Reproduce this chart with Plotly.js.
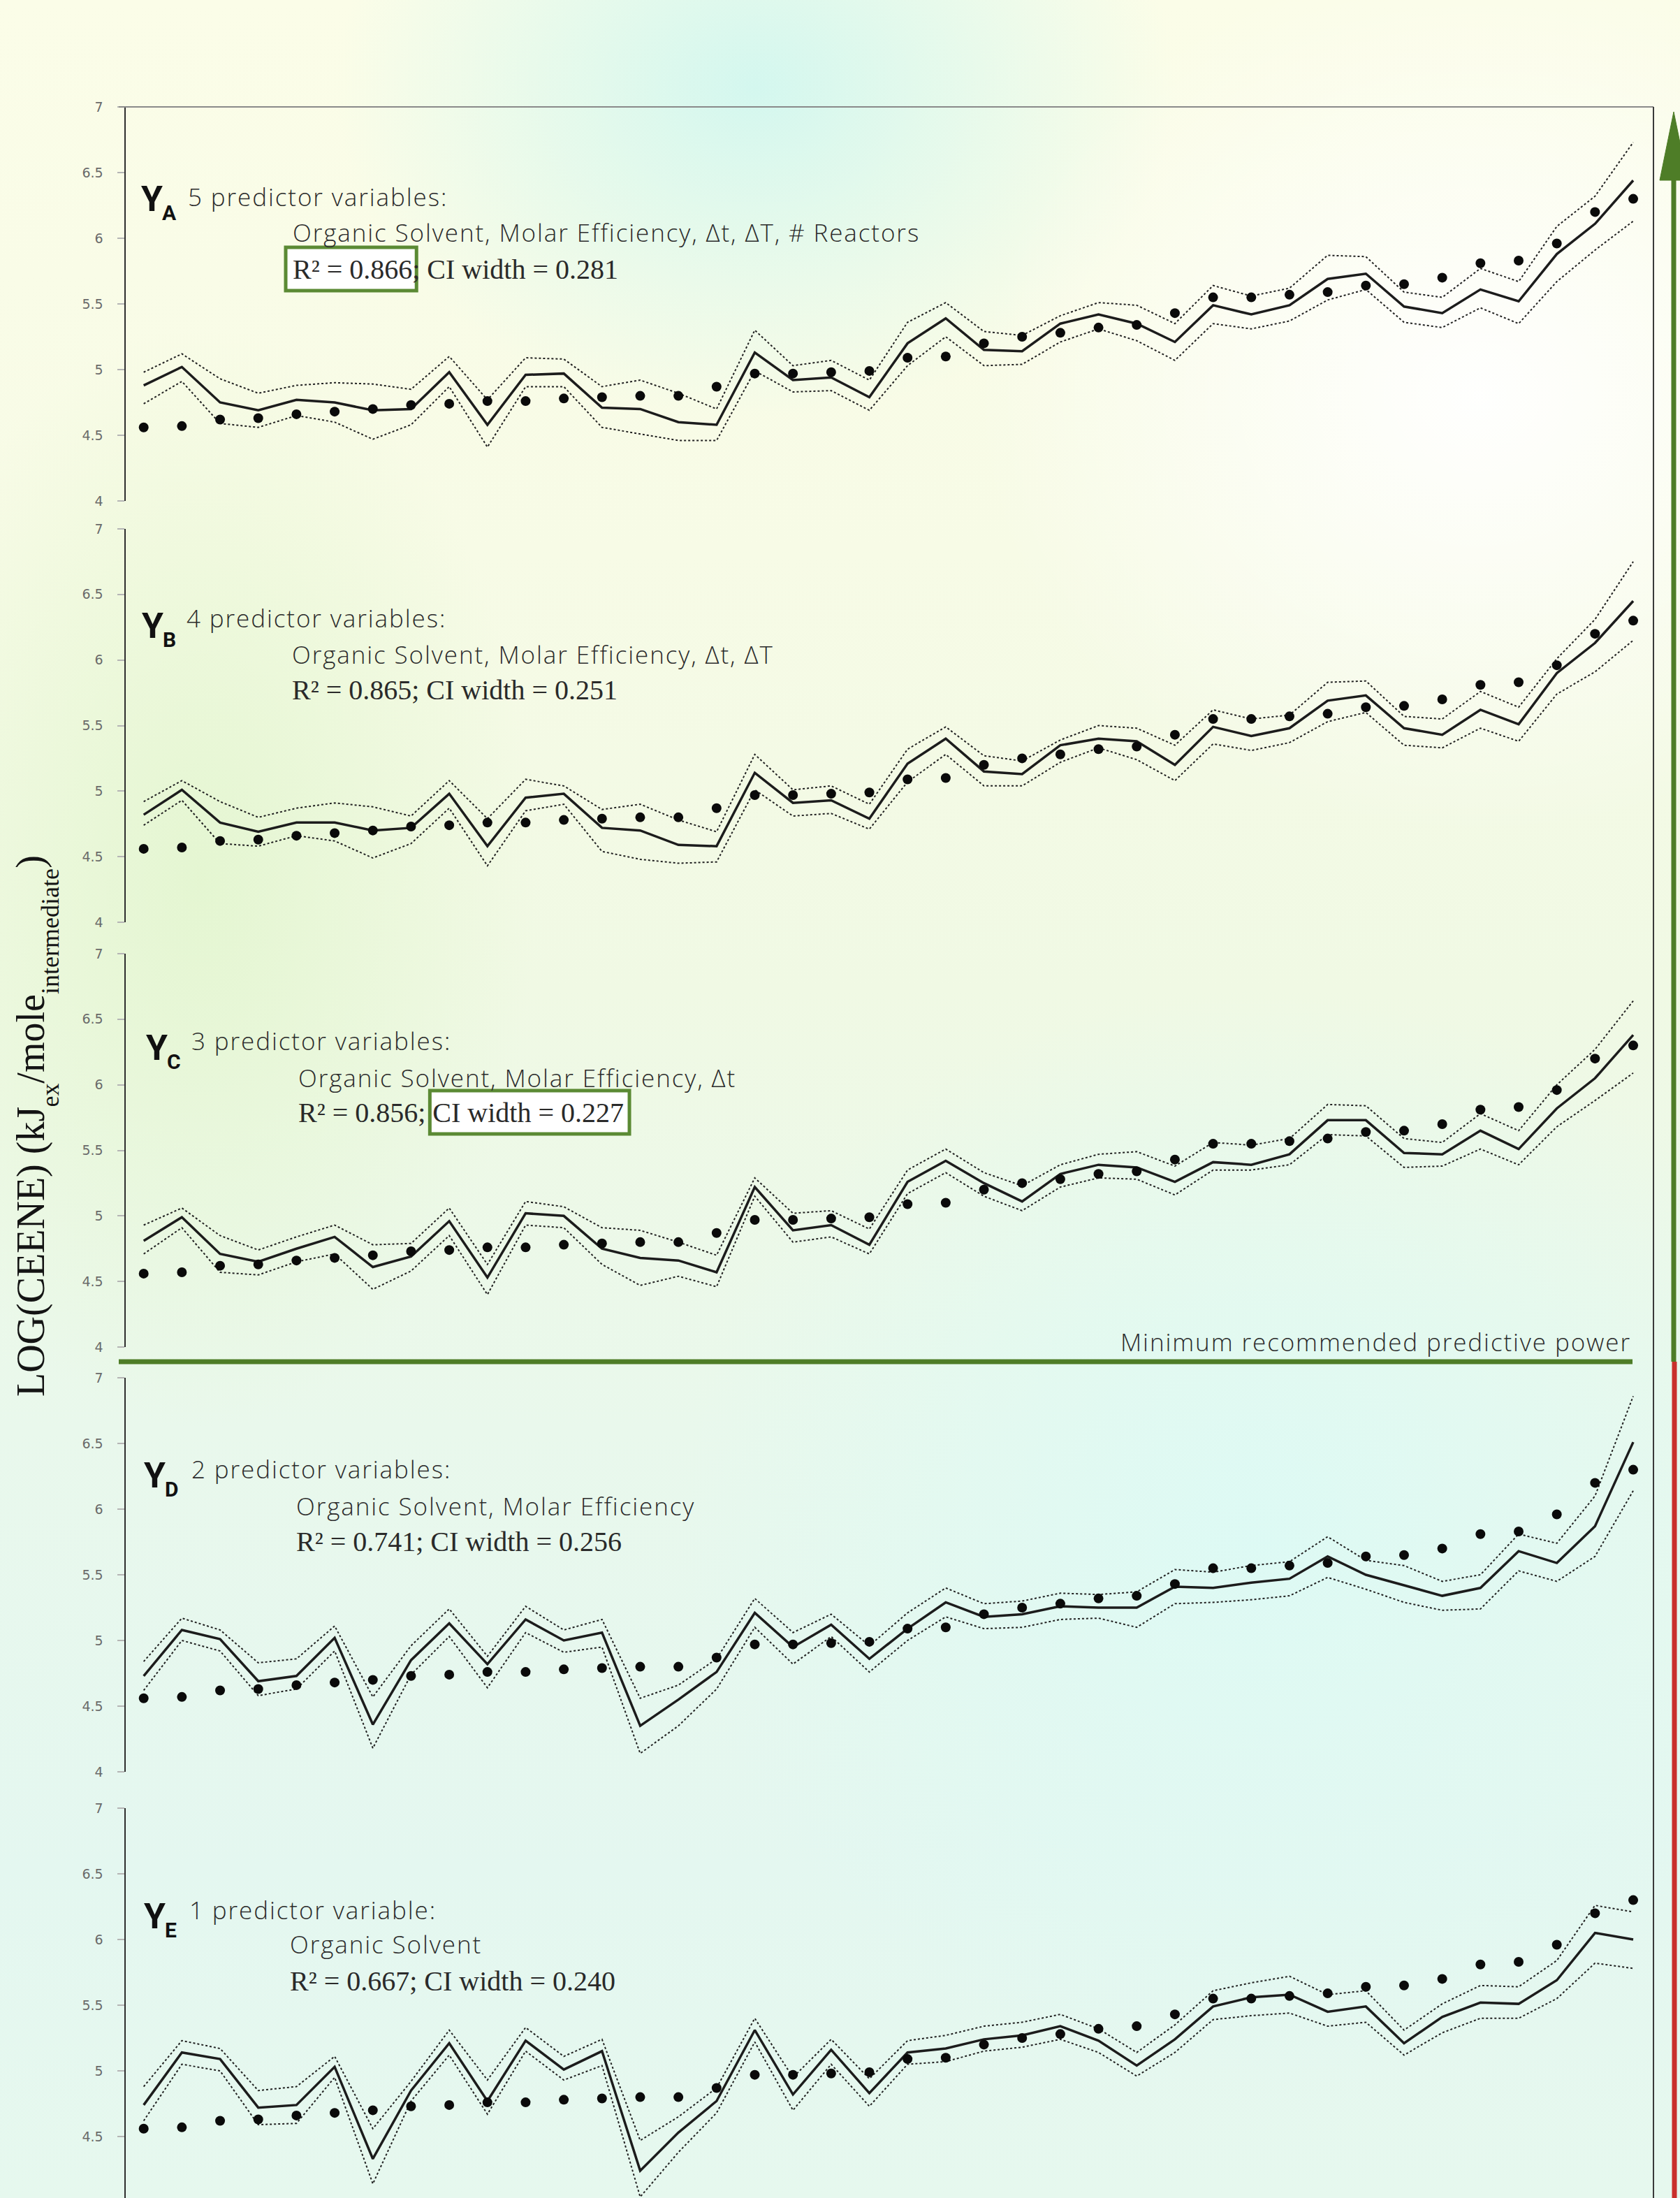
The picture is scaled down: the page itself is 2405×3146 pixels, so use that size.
<!DOCTYPE html>
<html>
<head>
<meta charset="utf-8">
<script src="https://cdn.plot.ly/plotly-3.0.1.min.js"></script>
<style>
html,body{margin:0;padding:0;width:2405px;height:3146px;overflow:hidden;}
body{
  background:
    radial-gradient(ellipse 30% 20% at 88% 18%, rgba(255,255,255,0.95) 0%, rgba(255,255,255,0) 100%),
    radial-gradient(ellipse 25% 15% at 45% 4%, rgba(205,246,240,0.85) 0%, rgba(205,246,240,0) 100%),
    radial-gradient(ellipse 20% 25% at 12% 40%, rgba(225,245,205,0.8) 0%, rgba(225,245,205,0) 100%),
    radial-gradient(ellipse 35% 25% at 75% 70%, rgba(220,250,245,0.9) 0%, rgba(220,250,245,0) 100%),
    linear-gradient(180deg, #fbfde8 0%, #f7fbe6 25%, #f0f9e4 45%, #e9f8ec 65%, #e4f7f0 85%, #e6f8ee 100%);
}
#chart{width:2405px;height:3146px;}
/* slightly widened light sans labels (slide typography) - applied before Plotly measures the text */
text[style*="Open Sans"]{letter-spacing:1.9px;}
</style>
</head>
<body>
<div id="chart"></div>
<script>
// ---------------- DATA ----------------
const sampleNo = [1,2,3,4,5,6,7,8,9,10,11,12,13,14,15,16,17,18,19,20,
                  21,22,23,24,25,26,27,28,29,30,31,32,33,34,35,36,37,38,39,40];

const observed = [4.56,4.57,4.62,4.63,4.66,4.68,4.70,4.73,4.74,4.76,4.76,4.78,4.79,4.80,4.80,4.87,4.97,4.97,4.98,4.99,
                  5.09,5.10,5.20,5.25,5.28,5.32,5.34,5.43,5.55,5.55,5.57,5.59,5.64,5.65,5.70,5.81,5.83,5.96,6.20,6.30];

const predA  = [4.88,5.02,4.75,4.69,4.77,4.75,4.69,4.70,4.98,4.58,4.96,4.97,4.71,4.70,4.60,4.58,5.13,4.92,4.94,4.79,
                5.20,5.39,5.15,5.14,5.35,5.42,5.35,5.21,5.49,5.42,5.49,5.69,5.73,5.48,5.43,5.61,5.52,5.88,6.11,6.44];
const upperA = [4.98,5.12,4.93,4.82,4.88,4.90,4.89,4.85,5.10,4.77,5.09,5.08,4.87,4.92,4.82,4.70,5.30,5.03,5.07,4.92,
                5.36,5.51,5.29,5.26,5.41,5.51,5.49,5.35,5.64,5.56,5.62,5.87,5.86,5.59,5.55,5.77,5.67,6.09,6.32,6.73];
const lowerA = [4.74,4.91,4.59,4.56,4.65,4.60,4.47,4.58,4.87,4.41,4.87,4.87,4.56,4.51,4.46,4.46,4.99,4.83,4.84,4.69,
                5.03,5.25,5.03,5.04,5.21,5.31,5.22,5.07,5.35,5.31,5.37,5.53,5.61,5.36,5.32,5.47,5.35,5.67,5.91,6.13];

const predB  = [4.82,5.01,4.76,4.69,4.76,4.76,4.70,4.72,4.98,4.58,4.95,4.98,4.72,4.70,4.59,4.58,5.14,4.91,4.93,4.79,
                5.21,5.40,5.15,5.13,5.35,5.40,5.38,5.20,5.49,5.42,5.48,5.69,5.73,5.48,5.43,5.62,5.51,5.90,6.13,6.45];
const upperB = [4.92,5.08,4.92,4.80,4.87,4.91,4.88,4.81,5.08,4.79,5.09,5.04,4.86,4.90,4.78,4.69,5.28,5.01,5.04,4.90,
                5.32,5.49,5.27,5.23,5.39,5.50,5.48,5.35,5.62,5.55,5.58,5.83,5.84,5.57,5.55,5.76,5.64,6.01,6.31,6.75];
const lowerB = [4.74,4.93,4.60,4.58,4.66,4.62,4.49,4.60,4.87,4.43,4.85,4.90,4.54,4.48,4.45,4.46,5.01,4.81,4.83,4.71,
                5.07,5.28,5.04,5.04,5.22,5.33,5.24,5.08,5.36,5.31,5.37,5.53,5.60,5.35,5.33,5.48,5.38,5.74,5.91,6.15];

const predC  = [4.81,4.99,4.71,4.65,4.75,4.84,4.61,4.69,4.96,4.53,5.02,5.00,4.75,4.68,4.66,4.57,5.22,4.89,4.93,4.78,
                5.26,5.42,5.25,5.11,5.32,5.39,5.37,5.26,5.41,5.39,5.47,5.73,5.73,5.48,5.47,5.65,5.51,5.82,6.05,6.38];
const upperC = [4.93,5.06,4.85,4.74,4.84,4.93,4.78,4.79,5.06,4.63,5.11,5.07,4.91,4.89,4.80,4.70,5.29,5.02,5.04,4.90,
                5.35,5.51,5.33,5.23,5.39,5.47,5.49,5.38,5.56,5.54,5.59,5.85,5.84,5.59,5.56,5.78,5.65,6.00,6.27,6.64];
const lowerC = [4.71,4.91,4.57,4.55,4.65,4.71,4.44,4.58,4.85,4.40,4.93,4.91,4.63,4.47,4.54,4.46,5.15,4.80,4.84,4.71,
                5.17,5.33,5.15,5.04,5.22,5.29,5.28,5.16,5.35,5.35,5.39,5.62,5.61,5.37,5.38,5.51,5.39,5.68,5.88,6.09];

const predD  = [4.73,5.08,5.01,4.69,4.73,5.02,4.36,4.85,5.13,4.82,5.16,5.00,5.06,4.35,4.55,4.76,5.21,4.95,5.12,4.86,
                5.09,5.29,5.18,5.20,5.26,5.25,5.25,5.41,5.40,5.44,5.47,5.64,5.50,5.42,5.34,5.40,5.68,5.59,5.87,6.51];
const upperD = [4.84,5.17,5.08,4.83,4.86,5.11,4.57,4.96,5.24,4.88,5.26,5.08,5.16,4.56,4.66,4.86,5.32,5.06,5.20,4.96,
                5.21,5.40,5.28,5.30,5.36,5.35,5.37,5.54,5.52,5.57,5.60,5.79,5.61,5.57,5.45,5.50,5.81,5.74,6.10,6.86];
const lowerD = [4.62,5.00,4.92,4.58,4.63,4.92,4.18,4.74,5.03,4.64,5.06,4.91,4.95,4.14,4.35,4.63,5.10,4.82,5.03,4.76,
                5.00,5.18,5.09,5.10,5.16,5.17,5.10,5.28,5.29,5.31,5.34,5.48,5.39,5.29,5.23,5.24,5.53,5.45,5.64,6.14];

const predE  = [4.74,5.14,5.09,4.72,4.74,5.03,4.33,4.85,5.21,4.77,5.23,5.01,5.15,4.24,4.53,4.77,5.31,4.82,5.16,4.83,
                5.14,5.17,5.24,5.27,5.34,5.23,5.04,5.24,5.49,5.56,5.58,5.45,5.49,5.21,5.41,5.52,5.51,5.69,6.05,6.00];
const upperE = [4.88,5.23,5.17,4.85,4.88,5.11,4.56,4.92,5.31,4.93,5.33,5.11,5.24,4.47,4.65,4.87,5.40,4.95,5.24,4.94,
                5.23,5.27,5.34,5.37,5.43,5.32,5.14,5.35,5.61,5.67,5.72,5.58,5.61,5.31,5.51,5.65,5.64,5.84,6.26,6.21];
const lowerE = [4.62,5.05,5.00,4.59,4.60,4.95,4.14,4.77,5.12,4.67,5.15,4.93,5.04,4.04,4.38,4.68,5.22,4.70,5.05,4.73,
                5.05,5.07,5.15,5.18,5.24,5.14,4.96,5.14,5.39,5.42,5.44,5.34,5.37,5.12,5.29,5.40,5.40,5.55,5.82,5.78];

const modelLetters   = ['A','B','C','D','E'];
const predictorCount = ['5 predictor variables:','4 predictor variables:','3 predictor variables:','2 predictor variables:','1 predictor variable:'];
const predictorNames = ['Organic Solvent, Molar Efficiency, \u0394t, \u0394T, # Reactors',
                        'Organic Solvent, Molar Efficiency, \u0394t, \u0394T',
                        'Organic Solvent, Molar Efficiency, \u0394t',
                        'Organic Solvent, Molar Efficiency',
                        'Organic Solvent'];
const rSquared = ['0.866','0.865','0.856','0.741','0.667'];
const ciWidth  = ['0.281','0.251','0.227','0.256','0.240'];
const yTickVals = [4,4.5,5,5.5,6,6.5,7];
const yTickText = ['4','4.5','5','5.5','6','6.5','7'];
const thresholdLabel = 'Minimum recommended predictive power';
const yTitleParts = ['LOG(CEENE) (kJ','ex','/mole','intermediate',')'];
const yTitleIsSub = [false,true,false,true,false];

// ---------------- LAYOUT (pixels) ----------------
const W = 2405, H = 3146;
const px = v => v / W;
const py = v => 1 - v / H;
const panelPx = [[153,717],[757,1320],[1365,1928],[1972,2536],[2588,3152]];
const plotLeft = 180, plotRight = 2367;
const xRange = [0.53, 40.53];
const yLblPos = [[201,285],[202,896],[208,1500],[205,2112],[205,2743]];
const line1X = [267,265,272,272,269], line1Y = [281,885,1490,2102,2733];
const line2X = [417,416,425,422,413], line2Y = [333,936,1543,2155,2782];
const line3Y = [385,987,1592,2206,2835];

const sansFont = '"Open Sans", Lato, sans-serif';
const serifFont = '"Liberation Serif", "DejaVu Serif", serif';
const labelFont = '"Liberation Sans Narrow", Roboto, sans-serif';
const sansSize = 35, serifSize = 40;
const sansColor = '#2c2c2c';

const preds  = [predA,predB,predC,predD,predE];
const uppers = [upperA,upperB,upperC,upperD,upperE];
const lowers = [lowerA,lowerB,lowerC,lowerD,lowerE];

const cv = document.createElement('canvas').getContext('2d');
function textW(t, size, fam, weight){ cv.font = (weight||'normal') + ' ' + size + 'px ' + fam; return cv.measureText(t).width; }

const traces = [], annotations = [], shapes = [];
const layout = {
  width: W, height: H,
  margin: {l:0,r:0,t:0,b:0},
  paper_bgcolor: 'rgba(0,0,0,0)',
  plot_bgcolor: 'rgba(0,0,0,0)',
  showlegend: false
};

for (let i = 0; i < 5; i++) {
  const ax = i === 0 ? '' : String(i + 1);
  const [top, bot] = panelPx[i];
  const unit = (bot - top) / 3;
  let rMin = 4, dBot = py(bot);
  if (bot > H) { rMin = 4 + (bot - H) / unit; dBot = 0; }
  layout['xaxis' + ax] = {
    domain: [px(plotLeft), px(plotRight)], range: xRange, visible: false,
    anchor: 'y' + ax
  };
  layout['yaxis' + ax] = {
    domain: [dBot, py(top)], range: [rMin, 7], anchor: 'x' + ax,
    showline: true, linecolor: '#2e2e2e', linewidth: 2.5,
    ticks: 'outside', ticklen: 10, tickwidth: 2, tickcolor: '#b5b5b5',
    tickvals: yTickVals, ticktext: yTickText, ticklabelstandoff: 16,
    tickfont: {family: '"DejaVu Sans", Verdana, sans-serif', size: 19, color: '#6a6a6a'},
    showgrid: false, zeroline: false
  };
  const xa = 'x' + ax, ya = 'y' + ax;
  traces.push({x: sampleNo, y: uppers[i], xaxis: xa, yaxis: ya, mode: 'lines',
               line: {color: '#222', width: 2, dash: '3px,3px'}, hoverinfo: 'skip'});
  traces.push({x: sampleNo, y: lowers[i], xaxis: xa, yaxis: ya, mode: 'lines',
               line: {color: '#222', width: 2, dash: '3px,3px'}, hoverinfo: 'skip'});
  traces.push({x: sampleNo, y: preds[i], xaxis: xa, yaxis: ya, mode: 'lines',
               line: {color: '#1c1c1c', width: 3.5}, hoverinfo: 'skip'});
  traces.push({x: sampleNo, y: observed, xaxis: xa, yaxis: ya, mode: 'markers',
               marker: {color: '#0a0a0a', size: 14, symbol: 'circle'}, hoverinfo: 'skip'});

  // model label "Y" with subscript letter
  const yW = textW('Y', 50, labelFont, 'bold');
  annotations.push({xref:'paper', yref:'paper', x: px(yLblPos[i][0]), y: py(yLblPos[i][1]),
    xanchor:'left', yanchor:'middle', showarrow:false, text: 'Y', borderpad: 0,
    font: {family: labelFont, size: 50, color: '#111', weight: 'bold'}});
  annotations.push({xref:'paper', yref:'paper', x: px(yLblPos[i][0] + yW - 1), y: py(yLblPos[i][1] + 19),
    xanchor:'left', yanchor:'middle', showarrow:false, text: modelLetters[i], borderpad: 0,
    font: {family: labelFont, size: 30, color: '#111', weight: 'bold'}});
  annotations.push({xref:'paper', yref:'paper', x: px(line1X[i]), y: py(line1Y[i]),
    xanchor:'left', yanchor:'middle', showarrow:false, text: predictorCount[i],
    font: {family: sansFont, size: sansSize, color: sansColor, weight: 300}});
  annotations.push({xref:'paper', yref:'paper', x: px(line2X[i]), y: py(line2Y[i]),
    xanchor:'left', yanchor:'middle', showarrow:false, text: predictorNames[i],
    font: {family: sansFont, size: sansSize, color: sansColor, weight: 300}});
  const partR = 'R\u00B2 = ' + rSquared[i];
  const partSep = '; ';
  const partCI = 'CI width = ' + ciWidth[i];
  annotations.push({xref:'paper', yref:'paper', x: px(line2X[i]), y: py(line3Y[i]),
    xanchor:'left', yanchor:'middle', showarrow:false, text: partR + partSep + partCI,
    font: {family: serifFont, size: serifSize, color: '#2a2a2a'}});

  // highlight boxes (A: R-squared, C: CI width)
  const x0 = line2X[i] + 2;
  let bx0 = null, bx1 = null;
  if (i === 0) { bx0 = x0 - 10; bx1 = x0 + textW(partR, serifSize, serifFont) + 6; }
  if (i === 2) { const s = textW(partR + partSep, serifSize, serifFont);
                 bx0 = x0 + s - 4; bx1 = x0 + s + textW(partCI, serifSize, serifFont) + 8; }
  if (bx0 !== null) {
    shapes.push({type:'rect', xref:'paper', yref:'paper', layer:'above',
      x0: px(bx0), x1: px(bx1), y0: py(line3Y[i] - 31), y1: py(line3Y[i] + 31),
      fillcolor: '#ffffff', line: {color: '#5b8a34', width: 5}});
  }
}

// frame lines
shapes.push({type:'line', xref:'paper', yref:'paper', x0: px(170), x1: px(plotRight), y0: py(153), y1: py(153),
             line: {color:'#8a8a8a', width: 2}});
shapes.push({type:'line', xref:'paper', yref:'paper', x0: px(plotRight), x1: px(plotRight), y0: py(153), y1: py(H),
             line: {color:'#3a3a3a', width: 2}});
// threshold line
shapes.push({type:'line', xref:'paper', yref:'paper', x0: px(170), x1: px(2337), y0: py(1949), y1: py(1949),
             line: {color:'#4e7d27', width: 7}});
// green arrow up, red line down
shapes.push({type:'line', xref:'paper', yref:'paper', x0: px(2396), x1: px(2396), y0: py(1949), y1: py(245),
             line: {color:'#4e7d27', width: 7}});
shapes.push({type:'path', xref:'paper', yref:'paper',
             path: 'M ' + px(2376) + ',' + py(258) + ' L ' + px(2396) + ',' + py(160) + ' L ' + px(2416) + ',' + py(258) + ' Z',
             fillcolor:'#4e7d27', line:{color:'#4e7d27', width:1}});
shapes.push({type:'line', xref:'paper', yref:'paper', x0: px(2397), x1: px(2397), y0: py(1949), y1: py(H),
             line: {color:'#c9302c', width: 7}});

annotations.push({xref:'paper', yref:'paper', x: px(2337), y: py(1920), xanchor:'right', yanchor:'middle',
  showarrow:false, text: thresholdLabel, font:{family: sansFont, size: sansSize, color: sansColor, weight: 300}});

// rotated y-axis title, built from measured segments (subscripts offset to the right)
(function(){
  const mainSize = 56, subSize = 36;
  const widths = yTitleParts.map((t, k) => textW(t, yTitleIsSub[k] ? subSize : mainSize, serifFont));
  const total = widths.reduce((a, b) => a + b, 0);
  let cursor = 1612 + total / 2;   // bottom end of the title (text reads upward)
  yTitleParts.forEach((t, k) => {
    const c = cursor - widths[k] / 2;
    annotations.push({xref:'paper', yref:'paper', x: px(yTitleIsSub[k] ? 72 : 44), y: py(c),
      xanchor:'center', yanchor:'middle', showarrow:false, textangle: -90, text: t, borderpad: 0,
      font:{family: serifFont, size: yTitleIsSub[k] ? subSize : mainSize, color:'#141414'}});
    cursor -= widths[k];
  });
})();

layout.annotations = annotations;
layout.shapes = shapes;

Plotly.newPlot('chart', traces, layout, {staticPlot: true, displayModeBar: false});
</script>
</body>
</html>
